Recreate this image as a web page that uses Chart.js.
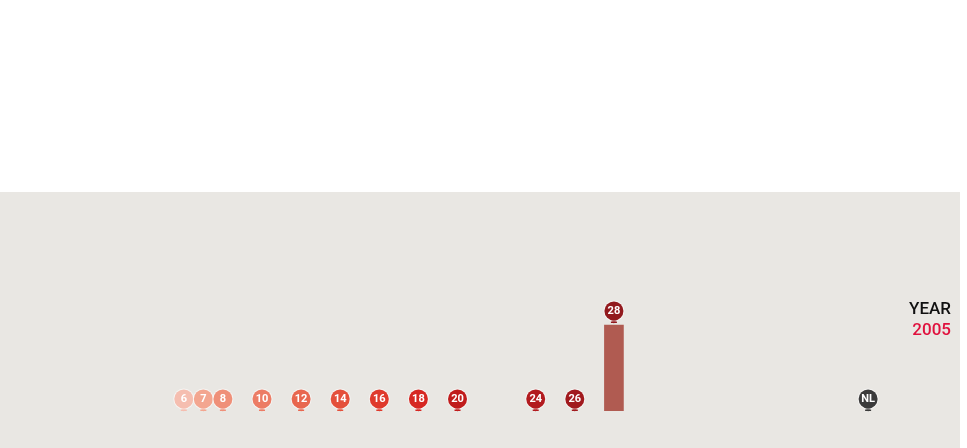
<!DOCTYPE html>
<html>
<head>
<meta charset="utf-8">
<script src="https://cdn.jsdelivr.net/npm/chart.js@4/dist/chart.umd.min.js"></script>
<style>
  html, body { margin: 0; padding: 0; background: #fff; width: 967px; height: 448px; overflow: hidden; }
  #panel { position: absolute; left: 0; top: 192px; width: 960px; height: 256px; background: #e9e7e3; }
  #chart { position: absolute; left: 0; top: 0; }
  .year { position: absolute; right: 9px; font-family: Roboto, "Noto Sans", sans-serif; font-size: 17px; font-weight: 500; text-align: right; line-height: 20px; }
  #yearLabel { top: 106px; color: #111; }
  #yearValue { top: 127px; color: #e0123e; }
</style>
</head>
<body>
<div id="panel">
  <canvas id="chart" width="960" height="256"></canvas>
  <div class="year" id="yearLabel">YEAR</div>
  <div class="year" id="yearValue">2005</div>
</div>
<script>
// marker labels and where they sit on the (numeric) x axis
const labels = ['6', '7', '8', '10', '12', '14', '16', '18', '20', '24', '26', '28', 'NL'];
const xValues = [6, 7, 8, 10, 12, 14, 16, 18, 20, 24, 26, 28, 41];
const values = [0, 0, 0, 0, 0, 0, 0, 0, 0, 0, 0, 50, 0];

const markerColors = ['#f5beb0', '#f3a690', '#ef9079', '#ec7c65', '#e8674f', '#e4503b',
  '#df3a2c', '#d62722', '#c01c1c', '#b21b1f', '#a11a1e', '#921a1e', '#3b3b3b'];

const pinPlugin = {
  id: 'pins',
  afterDatasetsDraw(chart) {
    const ctx = chart.ctx;
    const meta = chart.getDatasetMeta(0);
    meta.data.forEach((bar, i) => {
      const cx = bar.x;
      const top = bar.y;
      const cy = values[i] > 0 ? top - 14 : top - 12;
      const r = 9.5;
      ctx.save();
      // stem under the circle
      ctx.fillStyle = markerColors[i];
      ctx.beginPath();
      ctx.moveTo(cx - 4, cy + r - 2);
      ctx.lineTo(cx + 4, cy + r - 2);
      ctx.lineTo(cx, cy + r + 3);
      ctx.closePath();
      ctx.fill();
      ctx.fillRect(cx - 3, cy + r + 1, 6, 1.5);
      // halo + head
      ctx.beginPath();
      ctx.arc(cx, cy, r + 1, 0, Math.PI * 2);
      ctx.fillStyle = 'rgba(255,255,255,0.55)';
      ctx.fill();
      ctx.beginPath();
      ctx.arc(cx, cy, r, 0, Math.PI * 2);
      ctx.fillStyle = markerColors[i];
      ctx.fill();
      ctx.fillStyle = '#fff';
      ctx.font = 'bold 11px Roboto, "Noto Sans", sans-serif';
      ctx.textAlign = 'center';
      ctx.textBaseline = 'middle';
      ctx.fillText(labels[i], cx, cy + 0.5);
      ctx.restore();
    });
  }
};

new Chart(document.getElementById('chart').getContext('2d'), {
  type: 'bar',
  data: {
    datasets: [{
      data: xValues.map((x, i) => ({ x: x, y: values[i] })),
      backgroundColor: (c) => values[c.dataIndex] > 0 ? '#b05b51' : 'rgba(0,0,0,0)',
      borderWidth: 0,
      barThickness: 19
    }]
  },
  options: {
    responsive: false,
    animation: false,
    layout: { padding: { top: 47, bottom: 37, left: 0, right: 0 } },
    plugins: { legend: { display: false }, tooltip: { enabled: false } },
    scales: {
      x: { type: 'linear', min: -3.4, max: 45.7, offset: false, display: false },
      y: { min: 0, max: 100, display: false }
    }
  },
  plugins: [pinPlugin]
});
</script>
</body>
</html>
